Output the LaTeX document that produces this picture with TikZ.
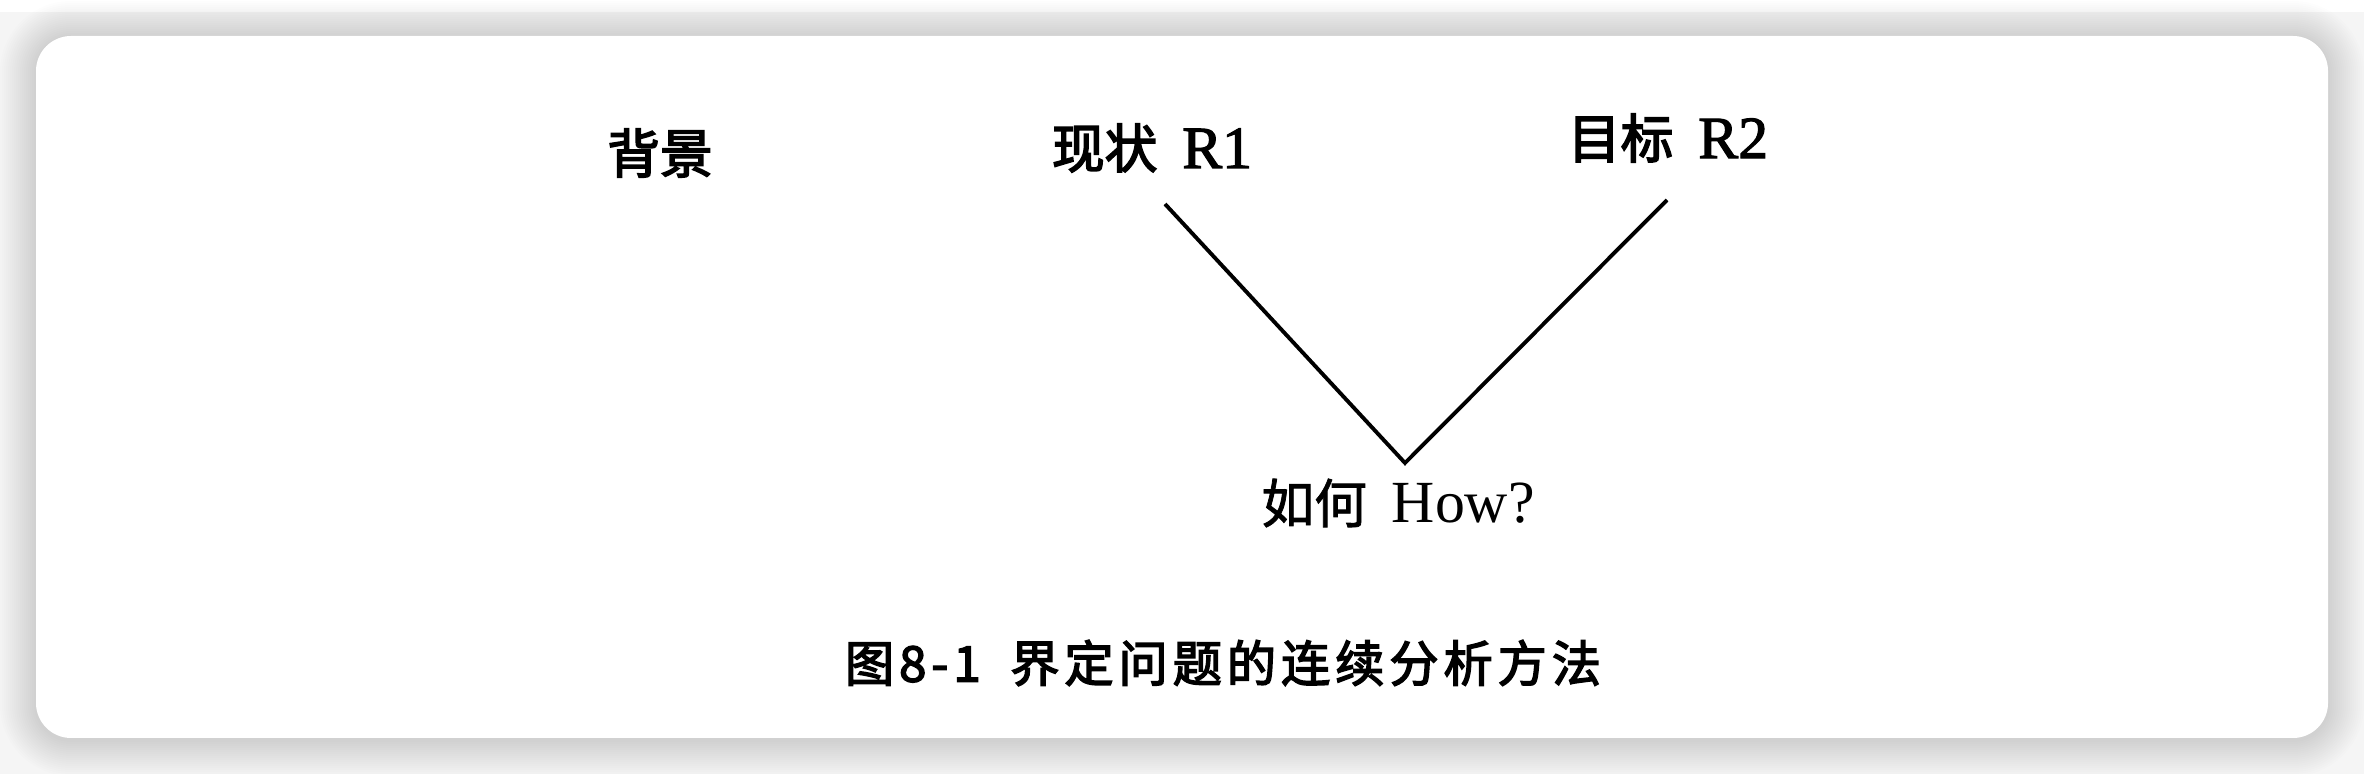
\documentclass[tikz,border=0pt]{standalone}
\usepackage{fontspec}
\setmainfont{Liberation Serif}
\newfontfamily\cjk{Noto Sans CJK SC}[FakeBold=3]
\newfontfamily\cjkr{Noto Sans CJK SC}[FakeBold=1.5]
\newfontfamily\latb{Liberation Serif}[FakeBold=2]
\newfontfamily\cjkcap{Noto Sans CJK SC}[LetterSpace=10,FakeBold=3]
\begin{document}
\begin{tikzpicture}[x=0.01cm,y=-0.01cm,
  lbl/.style={inner sep=0pt, anchor=center, font=\fontsize{17pt}{20pt}\selectfont},
  capt/.style={inner sep=0pt, anchor=center, font=\fontsize{14pt}{17pt}\selectfont},
  vline/.style={line width=1.1pt, black}]
\useasboundingbox (0,0) rectangle (2364,774);
\fill[white!96!black] (0,0) rectangle (2364,774);
\fill[white] (0,0) rectangle (2364,12);
% soft shadow around the card
\foreach \i in {1,...,18}{
  \fill[black, opacity=0.0085, rounded corners={(35+2*\i)*0.01cm}]
    (36-2*\i,36-2*\i+1) rectangle (2328+2*\i,738+2*\i+2);
}
\fill[white, rounded corners=0.35cm] (36,36) rectangle (2328,738);
% labels
\node[lbl] (bg) at (660,153) {{\cjk\fontsize{15pt}{18pt}\selectfont 背景}};
\node[lbl] (r1) at (1152,148) {{\cjk\fontsize{15pt}{18pt}\selectfont 现状}\, {\latb R1}};
\node[lbl] (r2) at (1668,138) {{\cjk\fontsize{15pt}{18pt}\selectfont 目标}\, {\latb R2}};
\node[lbl] (how) at (1398,503) {{\cjkr\fontsize{15pt}{18pt}\selectfont 如何}\, How?};
\coordinate (a) at (1165,204);
\coordinate (v) at (1405,463);
\coordinate (b) at (1667,200);
\draw[vline] (a) -- (v) -- (b);
\node[capt] (cap) at (1223,663) {{\cjkcap 图}{\cjkcap 8-1}\hspace{0.6em}{\cjkcap 界定问题的连续分析方法}};
\end{tikzpicture}
\end{document}
